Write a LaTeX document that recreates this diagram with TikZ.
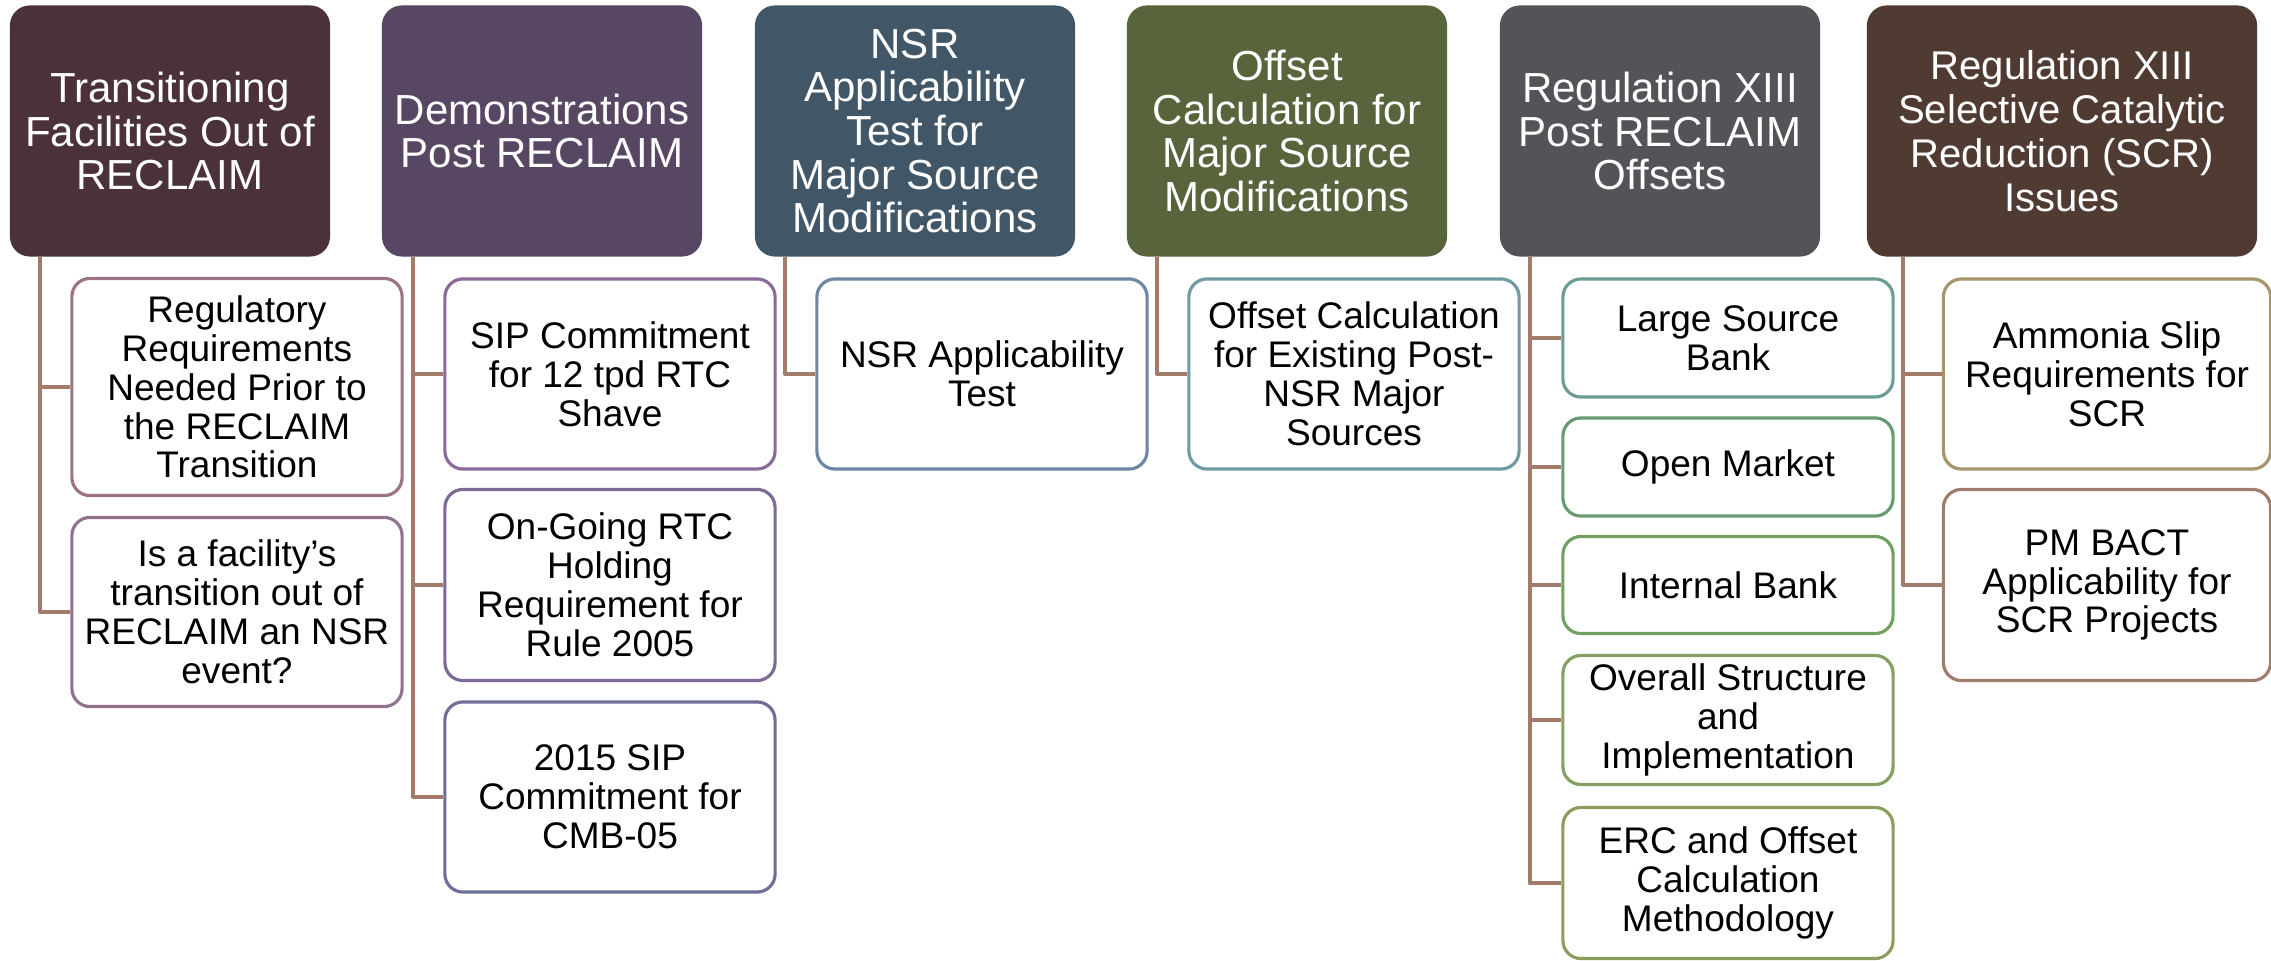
\documentclass[tikz,border=0pt]{standalone}
\usepackage{fontspec}
\setmainfont{Liberation Sans}
\usetikzlibrary{positioning}
\definecolor{hdA}{HTML}{4A313A}
\definecolor{hdB}{HTML}{574763}
\definecolor{hdC}{HTML}{415666}
\definecolor{hdD}{HTML}{58643B}
\definecolor{hdE}{HTML}{545358}
\definecolor{hdF}{HTML}{503B32}
\definecolor{linkc}{HTML}{A27B6B}
\definecolor{bdA}{HTML}{9C7485}
\definecolor{bdB}{HTML}{93728F}
\definecolor{bdC}{HTML}{8A6A98}
\definecolor{bdD}{HTML}{7E6A96}
\definecolor{bdE}{HTML}{6E6E9A}
\definecolor{bdF}{HTML}{6C86A4}
\definecolor{bdG}{HTML}{6E9AA2}
\definecolor{bdH}{HTML}{6A9E94}
\definecolor{bdI}{HTML}{6A9A74}
\definecolor{bdJ}{HTML}{72A062}
\definecolor{bdK}{HTML}{84A063}
\definecolor{bdL}{HTML}{8C9E5E}
\definecolor{bdM}{HTML}{A6946A}
\definecolor{bdN}{HTML}{A07C6C}
\tikzset{
  head/.style={rounded corners=0.2cm, text=white, align=center, inner sep=0pt,
    minimum width=3.2cm, minimum height=2.51cm, font=\fontsize{11.95}{12.4}\selectfont},
  leaf/.style={draw, line width=0.9pt, fill=white, rounded corners=0.18cm, align=center,
    inner sep=0pt, minimum width=3.3cm, font=\fontsize{10.53}{11.05}\selectfont},
  link/.style={draw=linkc, line width=1.1pt}
}

\begin{document}
\begin{tikzpicture}[x=0.01cm,y=-0.01cm,line join=round]
\useasboundingbox (0,0) rectangle (2271,961);
% top row
\node[head, fill=hdA] (h1) at (170,131) {Transitioning\\Facilities Out of\\RECLAIM};
\node[head, fill=hdB] (h2) at (542,131) {Demonstrations\\Post RECLAIM};
\node[head, fill=hdC] (h3) at (915,131) {NSR\\Applicability\\Test for\\Major Source\\Modifications};
\node[head, fill=hdD] (h4) at (1287,131) {Offset\\Calculation for\\Major Source\\Modifications};
\node[head, fill=hdE] (h5) at (1660,131) {Regulation XIII\\Post RECLAIM\\Offsets};
\node[head, fill=hdF, minimum width=3.9cm, font=\fontsize{11.4}{12.5}\selectfont] (h6) at (2062,131)
  {Regulation XIII\\Selective Catalytic\\Reduction (SCR)\\Issues};
% sub items
\node[leaf, draw=bdA, minimum height=2.17cm] (c1a) at (237,387) {Regulatory\\Requirements\\Needed Prior to\\the RECLAIM\\Transition};
\node[leaf, draw=bdB, minimum height=1.89cm] (c1b) at (237,612) {Is a facility’s\\transition out of\\RECLAIM an NSR\\event?};
\node[leaf, draw=bdC, minimum height=1.90cm] (c2a) at (610,374) {SIP Commitment\\for 12 tpd RTC\\Shave};
\node[leaf, draw=bdD, minimum height=1.91cm] (c2b) at (610,585) {On-Going RTC\\Holding\\Requirement for\\Rule 2005};
\node[leaf, draw=bdE, minimum height=1.90cm] (c2c) at (610,797) {2015 SIP\\Commitment for\\CMB-05};
\node[leaf, draw=bdF, minimum height=1.90cm] (c3a) at (982,374) {NSR Applicability\\Test};
\node[leaf, draw=bdG, minimum height=1.90cm] (c4a) at (1354,374) {Offset Calculation\\for Existing Post-\\NSR Major\\Sources};
\node[leaf, draw=bdH, minimum height=1.18cm] (c5a) at (1728,338) {Large Source\\Bank};
\node[leaf, draw=bdI, minimum height=0.98cm] (c5b) at (1728,467) {Open Market};
\node[leaf, draw=bdJ, minimum height=0.97cm] (c5c) at (1728,585) {Internal Bank};
\node[leaf, draw=bdK, minimum height=1.29cm] (c5d) at (1728,720) {Overall Structure\\and\\Implementation};
\node[leaf, draw=bdL, minimum height=1.51cm] (c5e) at (1728,883) {ERC and Offset\\Calculation\\Methodology};
\node[leaf, draw=bdM, minimum height=1.90cm, minimum width=3.27cm] (c6a) at (2107,374) {Ammonia Slip\\Requirements for\\SCR};
\node[leaf, draw=bdN, minimum height=1.91cm, minimum width=3.27cm] (c6b) at (2107,585) {PM BACT\\Applicability for\\SCR Projects};
% connectors
\coordinate (r1) at ([xshift=0.31cm]h1.south west);
\coordinate (r2) at ([xshift=0.32cm]h2.south west);
\coordinate (r3) at ([xshift=0.31cm]h3.south west);
\coordinate (r4) at ([xshift=0.31cm]h4.south west);
\coordinate (r5) at ([xshift=0.31cm]h5.south west);
\coordinate (r6) at ([xshift=0.37cm]h6.south west);
\draw[link] (r1) |- (c1a.west);
\draw[link] (r1) |- (c1b.west);
\draw[link] (r2) |- (c2a.west);
\draw[link] (r2) |- (c2b.west);
\draw[link] (r2) |- (c2c.west);
\draw[link] (r3) |- (c3a.west);
\draw[link] (r4) |- (c4a.west);
\draw[link] (r5) |- (c5a.west);
\draw[link] (r5) |- (c5b.west);
\draw[link] (r5) |- (c5c.west);
\draw[link] (r5) |- (c5d.west);
\draw[link] (r5) |- (c5e.west);
\draw[link] (r6) |- (c6a.west);
\draw[link] (r6) |- (c6b.west);
\end{tikzpicture}
\end{document}
